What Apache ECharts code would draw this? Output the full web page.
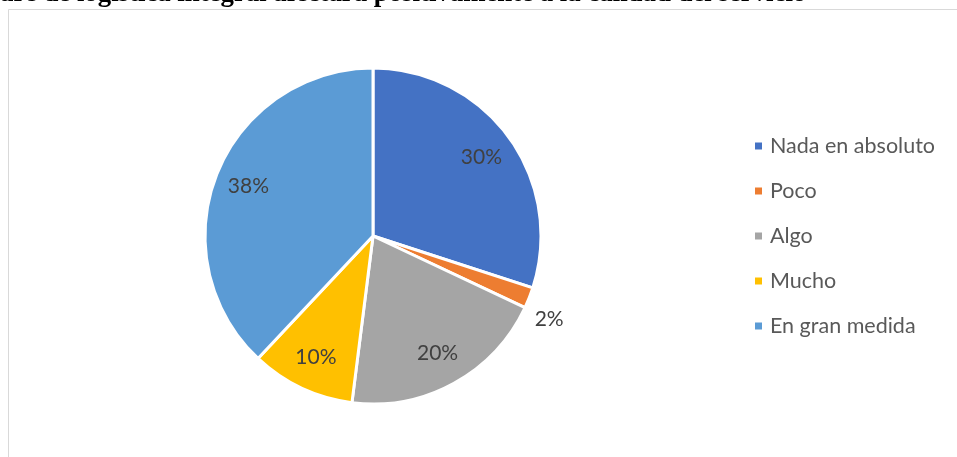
<!DOCTYPE html>
<html>
<head>
<meta charset="utf-8">
<script src="https://cdn.jsdelivr.net/npm/echarts@6/dist/echarts.min.js"></script>
<style>
  html, body { margin: 0; padding: 0; background: #fff; }
  #chart { width: 957px; height: 457px; }
</style>
</head>
<body>
<div id="chart"></div>
<script>
// Survey answers and their shares (percent)
const categories = ['Nada en absoluto', 'Poco', 'Algo', 'Mucho', 'En gran medida'];
const shares = [30, 2, 20, 10, 38];
const sliceColors = ['#4472C4', '#ED7D31', '#A5A5A5', '#FFC000', '#5B9BD5'];
const titleText = 'are de logística integral afectará positivamente a la calidad del servicio';

// Slices whose percentage sits outside the pie
const outsideLabels = ['Poco'];

const chart = echarts.init(document.getElementById('chart'), null, { renderer: 'canvas' });

const center = [373, 236];
const outerR = 168;

const pieData = categories.map((name, i) => ({
  name,
  value: shares[i],
  itemStyle: { color: sliceColors[i] },
  label: outsideLabels.includes(name)
    ? { show: true, position: 'outside' }
    : { show: false },
  labelLine: { show: false, length: 8, length2: 0 }
}));

// Transparent ring over the pie; its inner labels land at ~0.78 of the radius
const labelRingData = categories.map((name, i) => ({
  name,
  value: shares[i],
  label: { show: !outsideLabels.includes(name) }
}));

const labelFont = {
  fontFamily: 'Lato',
  fontSize: 21,
  color: '#404040'
};

chart.setOption({
  animation: false,
  backgroundColor: '#ffffff',
  graphic: [
    {
      type: 'rect',
      shape: { x: 8.5, y: 9.5, width: 1000, height: 500 },
      style: { fill: 'none', stroke: '#d9d9d9', lineWidth: 1 },
      silent: true
    },
    {
      type: 'text',
      x: 0,
      y: -19,
      style: {
        text: titleText,
        fontFamily: 'Liberation Serif',
        fontWeight: 'bold',
        fontSize: 26.8,
        fill: '#000000',
        verticalAlign: 'top'
      },
      silent: true
    }
  ],
  legend: {
    orient: 'vertical',
    left: 748,
    top: 130,
    itemWidth: 9,
    itemHeight: 9,
    itemGap: 23,
    icon: 'rect',
    data: categories,
    textStyle: {
      fontFamily: 'Lato',
      fontSize: 21.5,
      color: '#595959',
      padding: [0, 0, 0, 2]
    }
  },
  series: [
    {
      type: 'pie',
      center,
      radius: [0, outerR],
      startAngle: 90,
      clockwise: true,
      avoidLabelOverlap: false,
      itemStyle: { borderColor: '#ffffff', borderWidth: 3 },
      label: Object.assign({ formatter: '{c}%' }, labelFont),
      labelLayout: (params) =>
        categories[params.dataIndex] === 'Poco' ? { dx: -7, dy: 18 } : {},
      emphasis: { disabled: true },
      data: pieData
    },
    {
      type: 'pie',
      center,
      radius: [94, outerR],
      startAngle: 90,
      clockwise: true,
      silent: true,
      avoidLabelOverlap: false,
      legendHoverLink: false,
      itemStyle: { color: 'rgba(0,0,0,0)', borderWidth: 0 },
      label: Object.assign({ position: 'inside', formatter: '{c}%' }, labelFont),
      labelLine: { show: false },
      emphasis: { disabled: true },
      data: labelRingData
    }
  ]
});
</script>
</body>
</html>
